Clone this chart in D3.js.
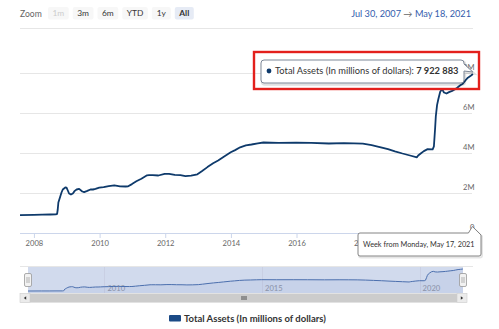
<!DOCTYPE html>
<html><head><meta charset="utf-8">
<script src="https://cdn.jsdelivr.net/npm/d3@7"></script>
<style>body{margin:0;background:#fff} svg{display:block;font-family:Lato,"DejaVu Sans",sans-serif}</style>
</head><body><svg id="c" width="499" height="329"></svg>
<script>
// Federal Reserve total assets, weekly readings (millions of dollars)
const weeks = [
"2007-07-30","2007-12-31","2008-03-31","2008-06-30","2008-09-01","2008-09-15","2008-09-22","2008-09-29",
"2008-10-06","2008-10-20","2008-11-03","2008-11-17","2008-12-15","2008-12-29","2009-01-12","2009-01-26",
"2009-02-16","2009-03-09","2009-03-30","2009-04-20","2009-05-18","2009-06-22","2009-07-13","2009-08-17",
"2009-09-21","2009-10-19","2009-11-16","2009-12-28","2010-02-15","2010-04-12","2010-06-14","2010-08-16",
"2010-10-18","2010-11-15","2010-12-27","2011-02-14","2011-04-11","2011-06-13","2011-07-04","2011-08-15",
"2011-10-17","2011-12-26","2012-02-13","2012-04-16","2012-06-18","2012-08-13","2012-10-15","2012-12-24",
"2013-02-11","2013-04-15","2013-06-17","2013-08-12","2013-10-14","2013-12-30","2014-02-17","2014-04-14",
"2014-06-16","2014-08-18","2014-10-27","2014-12-29","2015-06-15","2015-12-28","2016-06-13","2016-12-26",
"2017-06-12","2017-10-02","2018-01-08","2018-04-16","2018-07-16","2018-10-15","2018-12-31","2019-03-25",
"2019-06-17","2019-09-02","2019-09-16","2019-10-14","2019-11-18","2019-12-30","2020-02-24","2020-03-09",
"2020-03-23","2020-03-30","2020-04-13","2020-04-27","2020-05-18","2020-06-08","2020-06-29","2020-07-27",
"2020-08-24","2020-09-28","2020-10-26","2020-11-23","2020-12-28","2021-01-25","2021-02-22","2021-03-22",
"2021-04-19","2021-05-17"];
const totalAssets = [
870000,885000,890000,900000,905000,930000,1150000,1500000,
1600000,1800000,2000000,2150000,2250000,2240000,2100000,1950000,
1900000,1950000,2080000,2150000,2180000,2050000,2020000,2080000,
2150000,2150000,2180000,2240000,2270000,2320000,2360000,2310000,
2300000,2310000,2420000,2560000,2690000,2860000,2870000,2870000,
2850000,2930000,2930000,2880000,2870000,2820000,2840000,2910000,
3060000,3270000,3460000,3600000,3790000,4010000,4120000,4260000,
4360000,4400000,4460000,4500000,4480000,4490000,4480000,4450000,
4470000,4460000,4440000,4370000,4270000,4170000,4060000,3950000,
3850000,3760000,3850000,3950000,4070000,4170000,4160000,4310000,
5250000,5800000,6370000,6660000,7040000,7170000,7000000,6950000,
7020000,7080000,7150000,7240000,7360000,7440000,7600000,7740000,
7820000,7922883];

const seriesName = "Total Assets (In millions of dollars)";
const rangeFrom = "2007-07-30", rangeTo = "2021-05-18";
const rangeFromLabel = "Jul 30, 2007", rangeToLabel = "May 18, 2021";
const hoverLabel = "Week from Monday, May 17, 2021";
const zoomButtons = ["1m","3m","6m","YTD","1y","All"];
const yTicks = [0, 2000000, 4000000, 6000000, 8000000];
const yTickLabels = ["0","2M","4M","6M","8M"];
const xTickYears = [2008,2010,2012,2014,2016,2018,2020];
const navTickYears = [2010,2015,2020];

const parse = d3.timeParse("%Y-%m-%d");
const data = weeks.map((w,i)=>({date:parse(w), value:totalAssets[i]}));
const svg = d3.select("#c");

// ---- main plot ----
const plot = {left:20, right:473, top:30, bottom:233};
const x = d3.scaleTime().domain([parse(rangeFrom), parse(rangeTo)]).range([plot.left, plot.right]);
const y = d3.scaleLinear().domain([0, 8000000]).range([232.5, 72.5]);

// range selector
svg.append("text").attr("x",20).attr("y",16.5).attr("font-size",8.6).attr("fill","#666").text("Zoom");
let bx = 48;
zoomButtons.forEach((b,i)=>{
  const g = svg.append("g");
  const t = g.append("text").attr("y",16.3).attr("font-size",8.4).attr("text-anchor","middle")
    .attr("fill", i===0 ? "#ccc" : "#333").attr("font-weight", b==="All" ? "bold" : "normal").text(b);
  const w = Math.max(19, t.node().getComputedTextLength()+9);
  g.insert("rect","text").attr("x",bx).attr("y",7).attr("width",w).attr("height",12.5).attr("rx",2)
    .attr("fill", b==="All" ? "#e6ebf5" : "#f7f7f7");
  t.attr("x", bx + w/2);
  bx += w + 4;
});
const dr = svg.append("text").attr("x",471).attr("y",16.8).attr("font-size",9.2).attr("text-anchor","end");
dr.append("tspan").attr("fill","#335cad").text(rangeFromLabel);
dr.append("tspan").attr("fill","#666").text("  \u2192  ");
dr.append("tspan").attr("fill","#335cad").text(rangeToLabel);
svg.append("line").attr("x1",20).attr("x2",473).attr("y1",28.5).attr("y2",28.5).attr("stroke","#e6e6e6");

// grid
svg.append("g").selectAll("line").data(yTicks.slice(1)).join("line")
  .attr("x1",plot.left).attr("x2",472).attr("y1",d=>Math.round(y(d))+0.5).attr("y2",d=>Math.round(y(d))+0.5)
  .attr("stroke","#e6e6e6");

// x axis
const xa = svg.append("g").attr("transform",`translate(0,${plot.bottom})`)
  .call(d3.axisBottom(x).tickValues(xTickYears.map(yr=>new Date(yr,0,1))).tickFormat(d3.timeFormat("%Y")).tickSize(5).tickPadding(3));
xa.select(".domain").attr("stroke","#ccd6eb").attr("d",`M${plot.left},0.5H${plot.right}`);
xa.selectAll(".tick line").attr("stroke","#ccd6eb");
xa.selectAll(".tick text").attr("fill","#666").attr("font-size",7.6).attr("font-family","Lato,sans-serif");

// y labels (inside, above gridlines)
svg.append("g").selectAll("text").data(yTicks).join("text")
  .attr("x",474.5).attr("y",d=>y(d)-2.5).attr("text-anchor","end").attr("font-size",7.6).attr("fill","#666")
  .text((d,i)=>yTickLabels[i]);

// series line
svg.append("clipPath").attr("id","pc").append("rect").attr("x",plot.left).attr("y",plot.top)
  .attr("width",plot.right-plot.left+2).attr("height",plot.bottom-plot.top);
svg.append("path").datum(data).attr("clip-path","url(#pc)")
  .attr("d", d3.line().x(d=>x(d.date)).y(d=>y(d.value)))
  .attr("fill","none").attr("stroke","#0e3a6b").attr("stroke-width",1.8).attr("stroke-linejoin","round");

// ---- navigator ----
const nav = {left:28, right:463, top:267, bottom:293};
const nx = d3.scaleTime().domain(x.domain()).range([nav.left, nav.right]);
const ny = d3.scaleLinear().domain(d3.extent(totalAssets)).range([291, 269]);
svg.append("line").attr("x1",20).attr("x2",473).attr("y1",nav.top-0.5).attr("y2",nav.top-0.5).attr("stroke","#e6e6e6");
svg.append("rect").attr("x",nav.left).attr("y",nav.top).attr("width",nav.right-nav.left).attr("height",nav.bottom-nav.top)
  .attr("fill","rgba(102,133,194,0.3)");
svg.append("g").selectAll("line").data(navTickYears).join("line")
  .attr("x1",d=>Math.round(nx(new Date(d,0,1)))+0.5).attr("x2",d=>Math.round(nx(new Date(d,0,1)))+0.5)
  .attr("y1",nav.top).attr("y2",nav.bottom).attr("stroke","rgba(200,205,225,0.9)");
svg.append("g").selectAll("text").data(navTickYears).join("text")
  .attr("x",d=>nx(new Date(d,0,1))+3).attr("y",290.5).attr("font-size",7.6).attr("fill","#8f96a8")
  .text(d=>d);
svg.append("path").datum(data)
  .attr("d", d3.area().x(d=>nx(d.date)).y0(nav.bottom).y1(d=>ny(d.value)))
  .attr("fill","rgba(51,92,173,0.06)");
svg.append("path").datum(data)
  .attr("d", d3.line().x(d=>nx(d.date)).y(d=>ny(d.value)))
  .attr("fill","none").attr("stroke","#4b6fae").attr("stroke-width",1);
// handles
[nav.left, nav.right].forEach(hx=>{
  const g = svg.append("g").attr("transform",`translate(${hx},280)`);
  g.append("rect").attr("x",-3.5).attr("y",-6.5).attr("width",7).attr("height",13).attr("rx",1.5)
    .attr("fill","#f2f2f2").attr("stroke","#999").attr("stroke-width",0.8);
  g.append("line").attr("x1",-1).attr("x2",-1).attr("y1",-3).attr("y2",3).attr("stroke","#999").attr("stroke-width",0.7);
  g.append("line").attr("x1",1).attr("x2",1).attr("y1",-3).attr("y2",3).attr("stroke","#999").attr("stroke-width",0.7);
});
// scrollbar
const sb = {left:20, right:467, top:293.5, h:9};
svg.append("rect").attr("x",sb.left).attr("y",sb.top).attr("width",sb.right-sb.left).attr("height",sb.h).attr("fill","#f2f2f2");
svg.append("rect").attr("x",sb.left+10).attr("y",sb.top).attr("width",sb.right-sb.left-20).attr("height",sb.h).attr("fill","#cccccc");
[sb.left, sb.right-10].forEach((bxx,i)=>{
  svg.append("rect").attr("x",bxx).attr("y",sb.top).attr("width",10).attr("height",sb.h).attr("fill","#ebebeb")
    .attr("stroke","#ccc").attr("stroke-width",0.6);
  const cx = bxx+5, cy = sb.top+sb.h/2;
  svg.append("path").attr("d", i===0 ? `M${cx+1.2},${cy-1.8}L${cx-1.2},${cy}L${cx+1.2},${cy+1.8}Z` : `M${cx-1.2},${cy-1.8}L${cx+1.2},${cy}L${cx-1.2},${cy+1.8}Z`)
    .attr("fill","#333");
});
const gx = (sb.left+sb.right)/2;
[-2,0,2].forEach(o=>svg.append("line").attr("x1",gx+o+0.5).attr("x2",gx+o+0.5).attr("y1",sb.top+2.5).attr("y2",sb.top+sb.h-2.5)
  .attr("stroke","#333").attr("stroke-width",0.8));

// legend
const lg = svg.append("g");
lg.append("rect").attr("x",169).attr("y",315).attr("width",12).attr("height",6.5).attr("rx",1).attr("fill","#1b4a86");
lg.append("text").attr("x",184).attr("y",321.6).attr("font-size",9.5).attr("font-weight","bold").attr("fill","#333").text(seriesName);

// ---- tooltip for the latest week ----
const last = data[data.length-1];
const px = x(last.date), py = y(last.value);
const tb = {l:261, r:464, t:60, b:83, r0:3};
const tipPath = `M${tb.l+tb.r0},${tb.t}H${tb.r-tb.r0}Q${tb.r},${tb.t} ${tb.r},${tb.t+tb.r0}V${tb.t+4}L${px},${py-2}L${tb.r},${tb.t+11}V${tb.b-tb.r0}Q${tb.r},${tb.b} ${tb.r-tb.r0},${tb.b}H${tb.l+tb.r0}Q${tb.l},${tb.b} ${tb.l},${tb.b-tb.r0}V${tb.t+tb.r0}Q${tb.l},${tb.t} ${tb.l+tb.r0},${tb.t}Z`;
svg.append("path").attr("d",tipPath).attr("transform","translate(1,1.5)").attr("fill","none").attr("stroke","rgba(0,0,0,0.12)").attr("stroke-width",2.5);
svg.append("path").attr("d",tipPath).attr("fill","rgba(255,255,255,0.97)").attr("stroke","#7d8797").attr("stroke-width",1);
svg.append("circle").attr("cx",269).attr("cy",71).attr("r",2.4).attr("fill","#0e3a6b");
const tt = svg.append("text").attr("x",275).attr("y",74.4).attr("font-size",9.3).attr("fill","#333");
tt.append("tspan").text(seriesName + ": ");
tt.append("tspan").attr("font-weight","bold").text(d3.format(",")(last.value).replace(/,/g," "));

// crosshair date label, pointing at the x axis
const cb = {l:358, r:481, t:233, b:256};
const ax = px - 0.5, ay = 226.5;
const cPath = `M${cb.l+2},${cb.t}H${ax-4}L${ax},${ay}L${cb.r},${cb.t+2}V${cb.b-2}Q${cb.r},${cb.b} ${cb.r-2},${cb.b}H${cb.l+2}Q${cb.l},${cb.b} ${cb.l},${cb.b-2}V${cb.t+2}Q${cb.l},${cb.t} ${cb.l+2},${cb.t}Z`;
svg.append("path").attr("d",cPath).attr("transform","translate(1,1.5)").attr("fill","none").attr("stroke","rgba(0,0,0,0.1)").attr("stroke-width",2);
svg.append("path").attr("d",cPath).attr("fill","#fff").attr("stroke","#666").attr("stroke-width",0.8);
svg.append("text").attr("x",363).attr("y",247.3).attr("font-size",7.3).attr("fill","#333").text(hoverLabel);

// highlight frame around the tooltip
svg.append("rect").attr("x",254).attr("y",52).attr("width",225).attr("height",37)
  .attr("fill","none").attr("stroke","#e3201c").attr("stroke-width",2.4);
</script></body></html>
